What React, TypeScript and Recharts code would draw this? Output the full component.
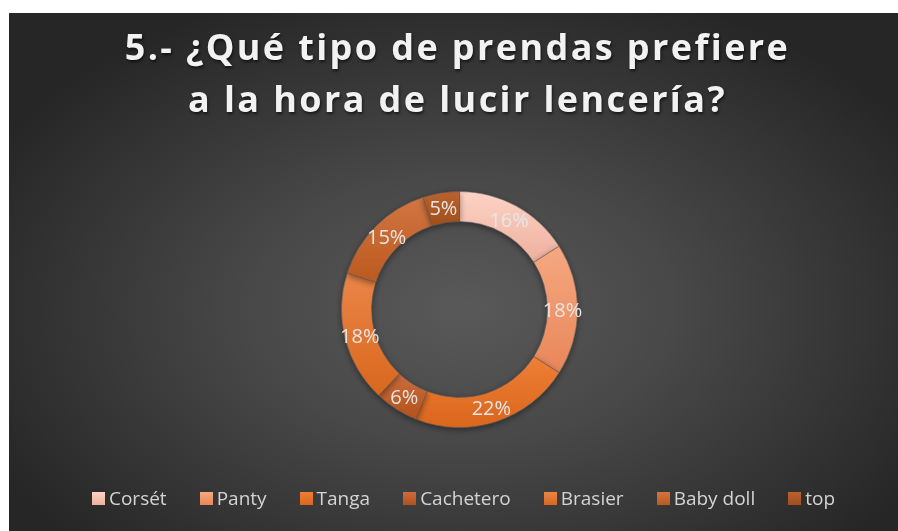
import { PieChart, Pie, Cell, Legend } from 'recharts';

// Prendas preferidas (porcentaje de respuestas)
const categories = ['Corsét', 'Panty', 'Tanga', 'Cachetero', 'Brasier', 'Baby doll', 'top'];
const percentages = [16, 18, 22, 6, 18, 15, 5];

// colores: [arriba, abajo] del degradado de cada porción
const sliceTop = ['#FCD3C5', '#F6A880', '#EE7F36', '#CB6C3C', '#EA8548', '#D27542', '#BA6230'];
const sliceBottom = ['#EEB09E', '#E8865A', '#DA661C', '#B2531C', '#D9671D', '#BA5A1F', '#A14E1C'];

const data = categories.map((name, i) => ({ name, value: percentages[i] }));

const RADIAN = Math.PI / 180;

function renderLabel(props: any) {
  const { cx, cy, midAngle, innerRadius, outerRadius, value } = props;
  const r = (innerRadius + outerRadius) / 2;
  const x = cx + r * Math.cos(-midAngle * RADIAN);
  const y = cy + r * Math.sin(-midAngle * RADIAN);
  return (
    <text
      x={x}
      y={y}
      fill="#e6e6e6"
      textAnchor="middle"
      dominantBaseline="central"
      fontSize={20}
      fontFamily="'Open Sans', sans-serif"
    >
      {`${value}%`}
    </text>
  );
}

function LegendContent() {
  return (
    <div
      style={{
        display: 'flex',
        justifyContent: 'center',
        alignItems: 'center',
        paddingLeft: 20,
        fontFamily: "'Open Sans', sans-serif",
        fontSize: 19,
        color: '#d4d4d4',
      }}
    >
      {categories.map((c, i) => (
        <div key={c} style={{ display: 'flex', alignItems: 'center', marginRight: i < categories.length - 1 ? 33 : 0 }}>
          <span
            style={{
              display: 'inline-block',
              width: 13,
              height: 13,
              marginRight: 4,
              background: `linear-gradient(${sliceTop[i]}, ${sliceBottom[i]})`,
            }}
          />
          <span>{c}</span>
        </div>
      ))}
    </div>
  );
}

export default function App() {
  return (
    <div
      style={{
        position: 'fixed',
        left: 9,
        top: 13,
        width: 889,
        height: 518,
        background: 'radial-gradient(ellipse 60% 65% at 51% 57%, #595959 0%, #484848 40%, #262626 100%)',
        overflow: 'hidden',
      }}
    >
      <div
        style={{
          position: 'absolute',
          top: 8,
          left: 0,
          width: 889,
          textAlign: 'center',
          color: '#f2f2f2',
          fontFamily: "'Open Sans', sans-serif",
          fontWeight: 700,
          fontSize: 36,
          letterSpacing: 2.4,
          lineHeight: '52px',
          textShadow: '1px 2px 3px rgba(0,0,0,0.6)',
          paddingLeft: 8,
          boxSizing: 'border-box',
        }}
      >
        5.- ¿Qué tipo de prendas prefiere
        <br />
        a la hora de lucir lencería?
      </div>
      <div style={{ position: 'absolute', top: 0, left: 0 }}>
        <PieChart width={889} height={518} margin={{ top: 0, right: 0, bottom: 0, left: 0 }}>
          <defs>
            {categories.map((c, i) => (
              <linearGradient key={c} id={`g${i}`} x1="0" y1="0" x2="0" y2="1">
                <stop offset="0%" stopColor={sliceTop[i]} />
                <stop offset="100%" stopColor={sliceBottom[i]} />
              </linearGradient>
            ))}
            <filter id="sh" x="-20%" y="-20%" width="140%" height="140%">
              <feDropShadow dx="0" dy="2" stdDeviation="3" floodColor="#000" floodOpacity="0.45" />
            </filter>
          </defs>
          <Pie
            data={data}
            dataKey="value"
            nameKey="name"
            cx={450.5}
            cy={296.5}
            innerRadius={88}
            outerRadius={118}
            startAngle={90}
            endAngle={-270}
            stroke="#5a5a5a"
            strokeWidth={0.5}
            label={renderLabel}
            labelLine={false}
            isAnimationActive={false}
            style={{ filter: 'url(#sh)' }}
          >
            {data.map((d, i) => (
              <Cell key={d.name} fill={`url(#g${i})`} />
            ))}
          </Pie>
          <Legend
            content={<LegendContent />}
            wrapperStyle={{ position: 'absolute', left: 0, top: 472, width: 889 }}
          />
        </PieChart>
      </div>
    </div>
  );
}
